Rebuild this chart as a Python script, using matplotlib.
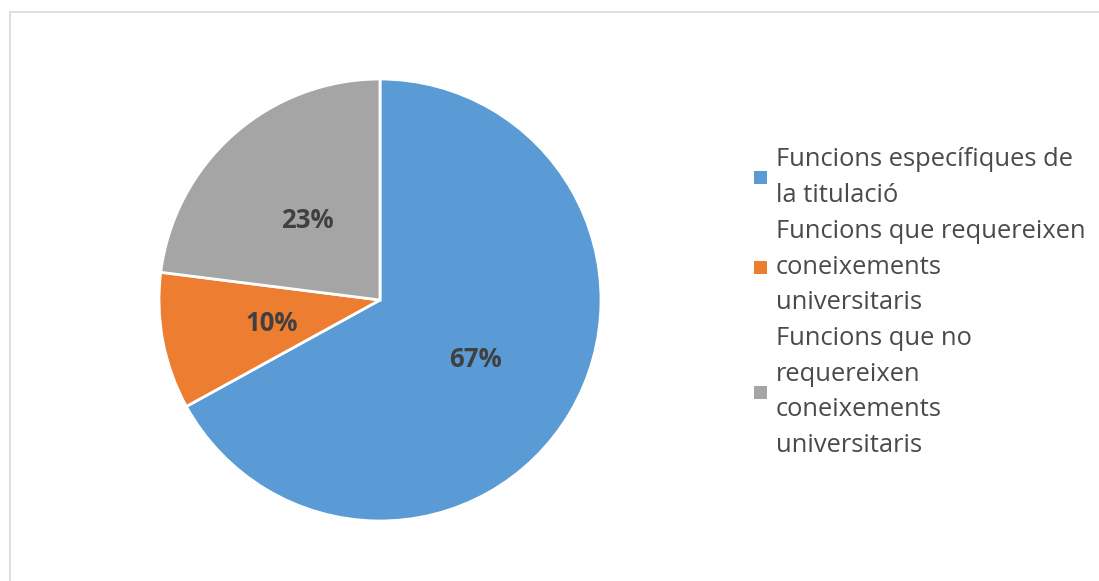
import matplotlib
matplotlib.use("Agg")
import matplotlib.pyplot as plt
from matplotlib.patches import Rectangle

# chart data
labels = [
    "Funcions específiques de\nla titulació",
    "Funcions que requereixen\nconeixements\nuniversitaris",
    "Funcions que no\nrequereixen\nconeixements\nuniversitaris",
]
values = [67, 10, 23]
colors = ["#5B9BD5", "#ED7D31", "#A5A5A5"]

W, H = 1099, 581
fig = plt.figure(figsize=(W / 100, H / 100), dpi=100)
fig.patch.set_facecolor("white")

# chart border (light gray, open to the right/bottom edges)
fig.patches.append(Rectangle((10 / W, -0.1), 1.2, (H - 12) / H + 0.1,
                             transform=fig.transFigure, fill=False,
                             edgecolor="#d9d9d9", linewidth=1.2))

# pie: centre (380, 300) px, radius 221 px
cx, cy, r = 380, 300, 221
ax = fig.add_axes([(cx - r) / W, (H - cy - r) / H, 2 * r / W, 2 * r / H])
wedges, texts, autotexts = ax.pie(
    values, colors=colors, startangle=90, counterclock=False,
    autopct="%1.0f%%", pctdistance=0.5,
    wedgeprops=dict(edgecolor="white", linewidth=2),
    textprops=dict(fontsize=18.5, fontweight="bold",
                   color="#404040", family="Open Sans"))
# nudge the percentages down a few pixels, like Excel places them
for t in autotexts:
    x, y = t.get_position()
    t.set_position((x, y - 3 / r))
ax.set_xlim(-1, 1)
ax.set_ylim(-1, 1)
ax.set_aspect("equal")

# legend drawn by hand to keep the wide Excel line spacing
line_h = 35.7
first_line = 160
x_text = 776
x_mark = 754
line_no = 0
for lab, col in zip(labels, colors):
    n = lab.count("\n") + 1
    y_top = first_line + line_no * line_h
    y_mid = y_top + (n - 1) * line_h / 2
    for i, part in enumerate(lab.split("\n")):
        fig.text(x_text / W, 1 - (y_top + i * line_h) / H, part,
                 fontsize=18.4, color="#4a4a4a", family="Open Sans",
                 va="center", ha="left")
    fig.patches.append(Rectangle((x_mark / W, 1 - (y_mid + 6.5) / H), 13 / W, 13 / H,
                                 transform=fig.transFigure, facecolor=col,
                                 edgecolor="none"))
    line_no += n

fig.savefig("out.png", dpi=100)
